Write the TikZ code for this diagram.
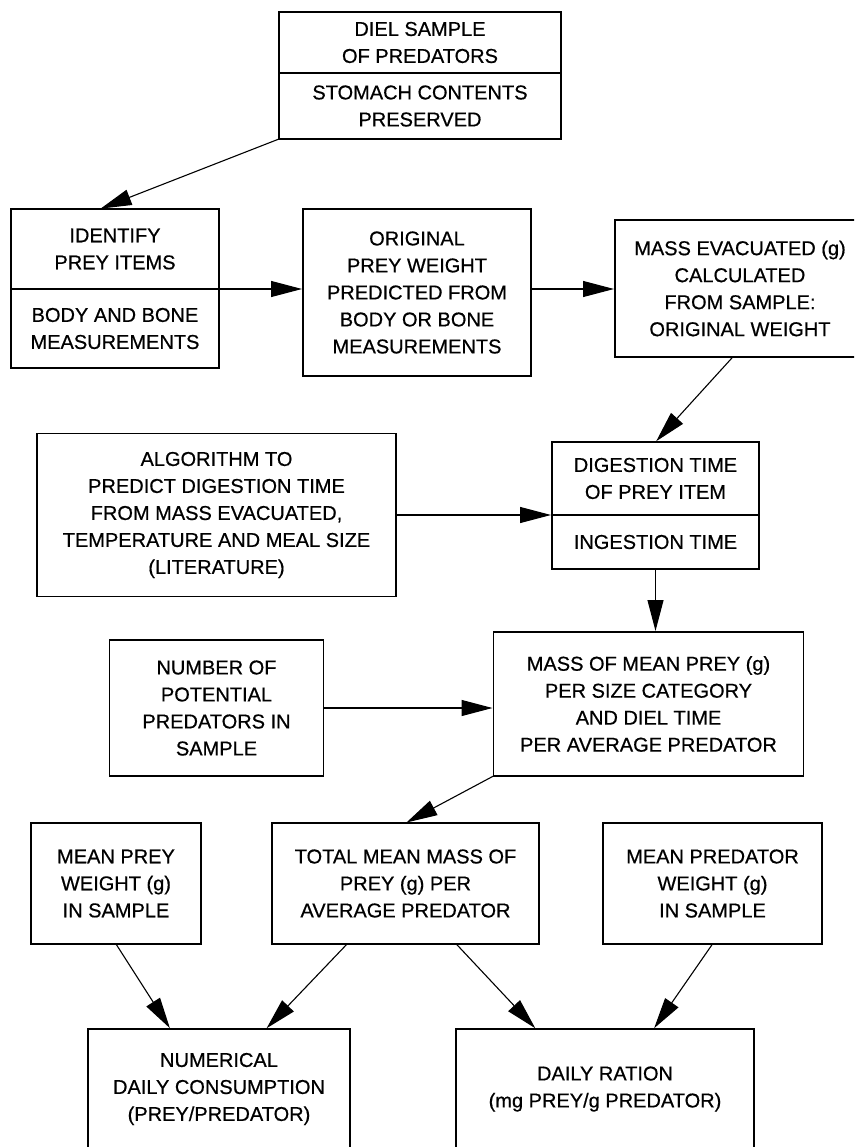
\documentclass[tikz,border=0pt]{standalone}
\usepackage{fontspec}
\setmainfont{Liberation Sans}[FakeBold=0.6]
\usetikzlibrary{arrows.meta,positioning}

\begin{document}
\begin{tikzpicture}[x=1pt,y=1pt,>={Triangle[length=31pt,width=16pt]},shorten >=1pt,
        box/.style={draw,rectangle,line width=1.6pt,outer sep=0pt,inner sep=0pt,
          align=center,font=\fontsize{20}{27}\selectfont},
        boxsize/.style 2 args={minimum width=#1,minimum height=#2}]

        \useasboundingbox (0,0) rectangle (854,-1147);
        \clip (0,0) rectangle (854,-1147);

        \node[box,boxsize={282pt}{61pt}] (1) at (420,-42.5) {DIEL SAMPLE\\OF PREDATORS};
        \node[box,boxsize={282pt}{66pt}] (2) [below=0pt of 1] {STOMACH CONTENTS\\PRESERVED};
        \node[box,boxsize={208pt}{80pt}] (3) [below left=70pt and 60pt of 2] {IDENTIFY\\PREY ITEMS};
        \node[box,boxsize={208pt}{79pt}] (4) [below=0pt of 3] {BODY AND BONE\\MEASUREMENTS};
        \node[box,boxsize={228pt}{167pt}] (5) [right=84pt of 3.north east,anchor=north west]
          {ORIGINAL\\PREY WEIGHT\\PREDICTED FROM\\BODY OR BONE\\MEASUREMENTS};
        \node[box,boxsize={250pt}{137pt}] (6) [right=84pt of 5.north east,anchor=north west,yshift=-11pt]
          {MASS EVACUATED (g)\\CALCULATED\\FROM SAMPLE:\\ORIGINAL WEIGHT};
        \node[box,boxsize={207pt}{73pt}] (7) [below=85pt of 6.south west,anchor=north west,xshift=-63pt]
          {DIGESTION TIME\\OF PREY ITEM};
        \node[box,boxsize={207pt}{54pt}] (8) [below=0pt of 7] {INGESTION TIME};
        \node[box,boxsize={359pt}{163pt}] (9) [left=156pt of 7.south west,anchor=east]
          {ALGORITHM TO\\PREDICT DIGESTION TIME\\FROM MASS EVACUATED,\\TEMPERATURE AND MEAL SIZE\\(LITERATURE)};
        \node[box,boxsize={310pt}{144pt}] (10) [below=63pt of 8,xshift=-7pt]
          {MASS OF MEAN PREY (g)\\PER SIZE CATEGORY\\AND DIEL TIME\\PER AVERAGE PREDATOR};
        \node[box,boxsize={214pt}{136pt}] (11) [left=170pt of 10.south west,anchor=south east]
          {NUMBER OF\\POTENTIAL\\PREDATORS IN\\SAMPLE};
        \node[box,boxsize={267pt}{121pt}] (12) [below=47pt of 10.south west,anchor=north,xshift=-88pt]
          {TOTAL MEAN MASS OF\\PREY (g) PER\\AVERAGE PREDATOR};
        \node[box,boxsize={170pt}{121pt}] (13) [left=71pt of 12] {MEAN PREY\\WEIGHT (g)\\IN SAMPLE};
        \node[box,boxsize={219pt}{121pt}] (14) [right=64pt of 12] {MEAN PREDATOR\\WEIGHT (g)\\IN SAMPLE};
        \node[box,boxsize={262pt}{120pt}] (15) [below=85pt of 12.south west,anchor=north east,xshift=78pt]
          {NUMERICAL\\DAILY CONSUMPTION\\(PREY/PREDATOR)};
        \node[box,boxsize={298pt}{120pt}] (16) [right=106pt of 15.north east,anchor=north west]
          {DAILY RATION\\(mg PREY/g PREDATOR)};

        \path[->,line width=1.1pt]
        (2.south west) edge (3.111)
        (3.south east) edge (3.south east -| 5.west)
        (3.south east -| 5.east) edge (3.south east -| 6.west)
        (6.264) edge (7.north)
        (9.east) edge (7.south west)
        (8.south) edge (8.south |- 10.north)
        (11.east) edge (11.east -| 10.west)
        (10.south west) edge (12.north)
        (13.south) edge (15.129)
        (12.226) edge (15.52)
        (12.310) edge (16.139)
        (14.south) edge (16.51);
      \end{tikzpicture}
\end{document}
